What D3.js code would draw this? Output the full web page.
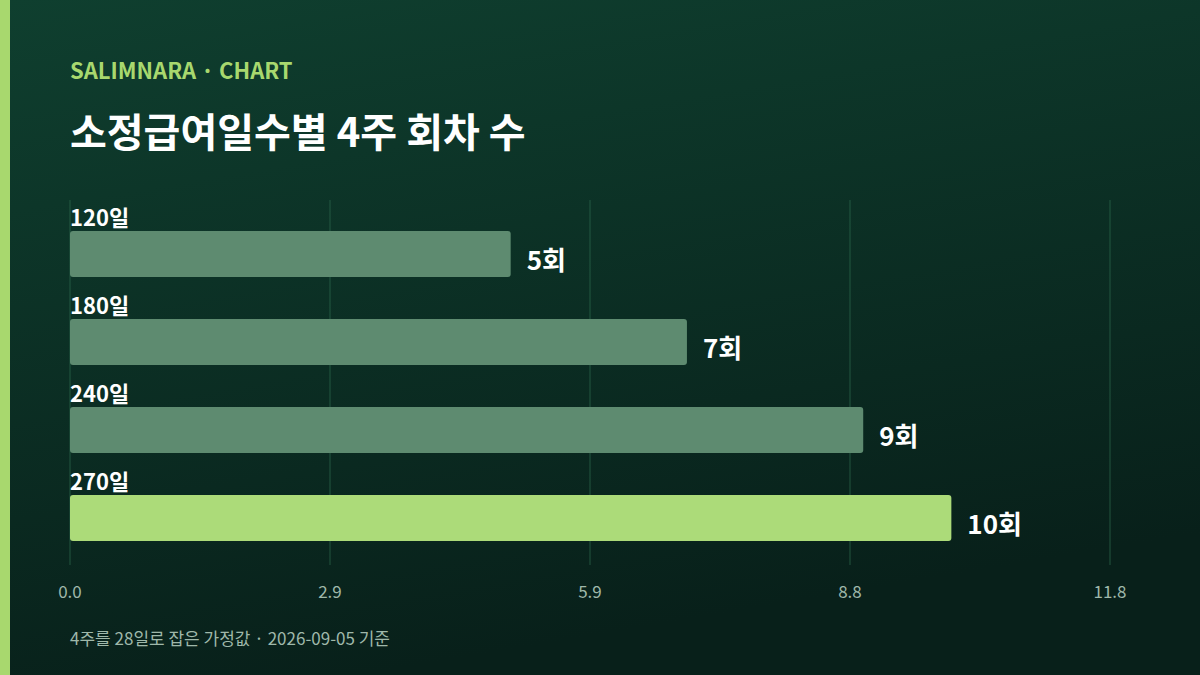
<!DOCTYPE html>
<html><head><meta charset="utf-8">
<script src="https://cdn.jsdelivr.net/npm/d3@7"></script>
<style>html,body{margin:0;padding:0;background:#0b2a1f}svg{display:block}</style>
</head><body><svg id="c" width="1200" height="675"></svg>
<script>
const categories = ["120일","180일","240일","270일"];
const values = [5,7,9,10];
const valueLabels = ["5회","7회","9회","10회"];
const tickValues = [0,2.95,5.9,8.85,11.8];
const tickLabels = ["0.0","2.9","5.9","8.8","11.8"];
const svg = d3.select("#c");
const font = "'Noto Sans CJK KR','Noto Sans',sans-serif";
const defs = svg.append("defs");
const g = defs.append("linearGradient").attr("id","bg").attr("x1",0).attr("y1",0).attr("x2",0.3).attr("y2",1);
g.append("stop").attr("offset","0%").attr("stop-color","#0f3f2f");
g.append("stop").attr("offset","100%").attr("stop-color","#08201a");
svg.append("rect").attr("width",1200).attr("height",675).attr("fill","url(#bg)");
svg.append("rect").attr("width",10).attr("height",675).attr("fill","#a8d86e");
svg.append("text").attr("x",70).attr("y",79).attr("font-family",font).attr("font-weight",700).attr("font-size",22).attr("fill","#a8d86e").text("SALIMNARA · CHART");
svg.append("text").attr("x",70).attr("y",147).attr("font-family",font).attr("font-weight",700).attr("font-size",40).attr("fill","#ffffff").text("소정급여일수별 4주 회차 수");
const x = d3.scaleLinear().domain([0,11.8]).range([70,1110]);
const y = d3.scaleBand().domain(categories).range([200,552]).paddingInner(0);
svg.selectAll(".grid").data(tickValues).join("line").attr("x1",d=>x(d)).attr("x2",d=>x(d)).attr("y1",200).attr("y2",565).attr("stroke","#2f6a4e").attr("stroke-width",1).attr("opacity",0.7);
svg.selectAll(".tl").data(tickValues).join("text").attr("x",d=>x(d)).attr("y",598).attr("text-anchor","middle").attr("font-family",font).attr("font-size",17).attr("fill","#9fb8aa").text((d,i)=>tickLabels[i]);
const bh = 46;
const by = c => y(c)+31;
svg.selectAll(".bar").data(categories).join("rect").attr("x",x(0)).attr("y",by).attr("width",(c,i)=>x(values[i])-x(0)).attr("height",bh).attr("rx",3).attr("fill",(c,i)=>i===3?"#acdb79":"#5e8b70");
svg.selectAll(".cl").data(categories).join("text").attr("x",70).attr("y",c=>by(c)-5).attr("font-family",font).attr("font-weight",700).attr("font-size",22).attr("fill","#ffffff").text(c=>c);
svg.selectAll(".vl").data(categories).join("text").attr("x",(c,i)=>x(values[i])+16).attr("y",c=>by(c)+bh/2+16).attr("font-family",font).attr("font-weight",700).attr("font-size",26).attr("fill","#ffffff").text((c,i)=>valueLabels[i]);
svg.append("text").attr("x",70).attr("y",645).attr("font-family",font).attr("font-size",17).attr("fill","#9fb8aa").text("4주를 28일로 잡은 가정값 · 2026-09-05 기준");
</script></body></html>
